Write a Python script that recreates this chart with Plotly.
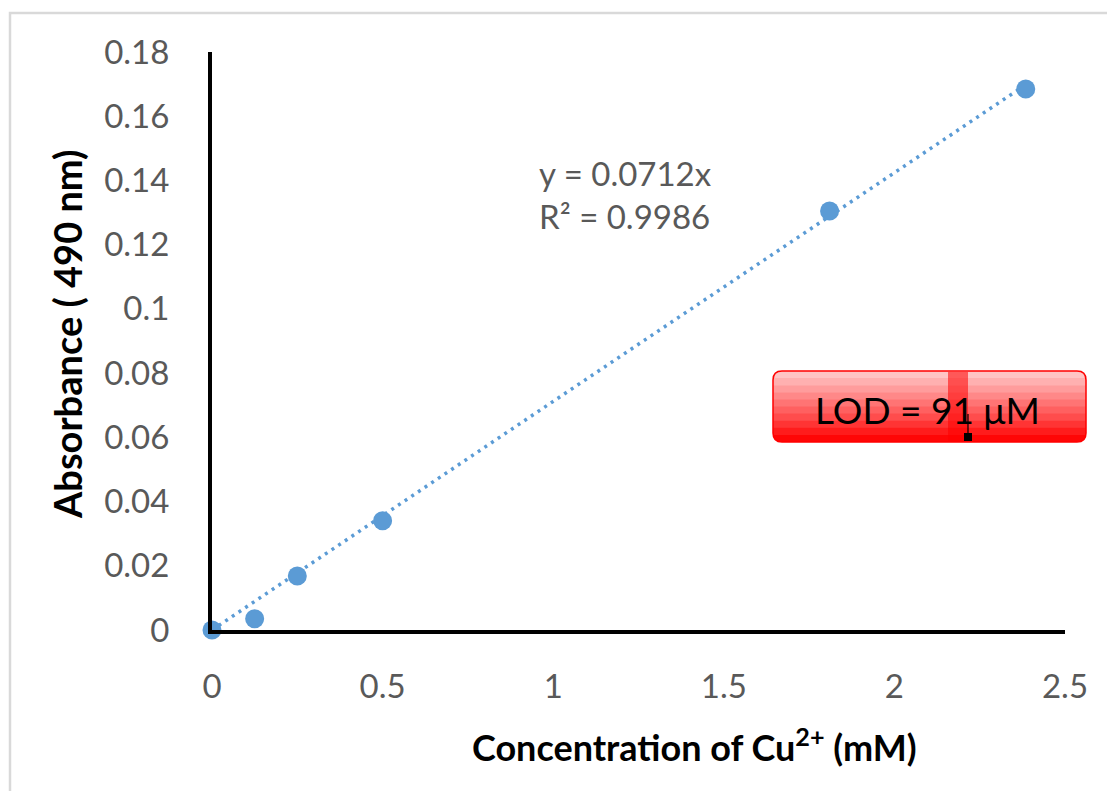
import plotly.graph_objects as go

conc = [0, 0.125, 0.25, 0.5, 1.81, 2.385]
absorb = [0.0, 0.0035, 0.0168, 0.034, 0.1305, 0.1685]
slope = 0.0712
eq_text = "y = 0.0712x<br>R² = 0.9986"
lod_text = "LOD = 91 μM"
x_title = "<b>Concentration of Cu<sup>2+</sup> (mM)</b>"
y_title = "<b>Absorbance ( 490 nm)</b>"
x_ticks = [0, 0.5, 1, 1.5, 2, 2.5]
x_tick_text = ["0", "0.5", "1", "1.5", "2", "2.5"]
y_ticks = [0, 0.02, 0.04, 0.06, 0.08, 0.1, 0.12, 0.14, 0.16, 0.18]
y_tick_text = ["0", "0.02", "0.04", "0.06", "0.08", "0.1", "0.12", "0.14", "0.16", "0.18"]

FONT = "Lato"
BLUE = "#5b9bd5"
GRAY = "#595959"

fit_x = [0, max(conc)]
fit_y = [slope * v for v in fit_x]

fig = go.Figure()
fig.add_trace(go.Scatter(x=fit_x, y=fit_y, mode="lines",
                         line=dict(color=BLUE, width=3.5, dash="3px,5px"),
                         cliponaxis=False, hoverinfo="skip"))
fig.add_trace(go.Scatter(x=conc, y=absorb, mode="markers",
                         marker=dict(color=BLUE, size=19),
                         cliponaxis=False))

W, H = 1115, 791
OFF = 8  # page body margin
L, T = 212 - OFF, 52 - OFF
R = W - (1065 - OFF)
B = H - (630 - OFF)
pw, ph = W - L - R, H - T - B

def px(xs):
    return (xs - OFF - L) / pw

def py(ys):
    return (H - B - (ys - OFF)) / ph

def rpath(xa, xb, ya, yb, rt, rb):
    """Rounded rect path in screen px; rt/rb = radius of top/bottom corners."""
    pts = []
    pts.append(f"M {px(xa + rt)},{py(ya)}")
    pts.append(f"L {px(xb - rt)},{py(ya)}")
    if rt:
        pts.append(f"Q {px(xb)},{py(ya)} {px(xb)},{py(ya + rt)}")
    pts.append(f"L {px(xb)},{py(yb - rb)}")
    if rb:
        pts.append(f"Q {px(xb)},{py(yb)} {px(xb - rb)},{py(yb)}")
    pts.append(f"L {px(xa + rb)},{py(yb)}")
    if rb:
        pts.append(f"Q {px(xa)},{py(yb)} {px(xa)},{py(yb - rb)}")
    pts.append(f"L {px(xa)},{py(ya + rt)}")
    if rt:
        pts.append(f"Q {px(xa)},{py(ya)} {px(xa + rt)},{py(ya)}")
    pts.append("Z")
    return " ".join(pts)

shapes = []
# outer chart border (left & top visible)
shapes.append(dict(type="path", xref="paper", yref="paper",
                   path=f"M {px(10)},{py(820)} L {px(10)},{py(13)} L {px(1130)},{py(13)}",
                   line=dict(color="#d9d9d9", width=2.5), layer="below"))

# LOD box with gradient bands
xa, xb = 773, 1086
ytop, ybot = 371, 442
rad = 9
bands = ["#ffc4c4", "#ffb0b0", "#ff9c9c", "#ff8888", "#ff7474", "#ff6060",
         "#ff4c4c", "#ff3434", "#ff1c1c", "#ff0606"]
n = len(bands)
bh = (ybot - ytop) / n
for i, c in enumerate(bands):
    ya = ytop + i * bh
    yb = ytop + (i + 1) * bh + 0.5
    if i == 0:
        p = rpath(xa, xb, ya, yb + 0.5, rad, 0)
    elif i == n - 1:
        p = rpath(xa, xb, ya, ybot, 0, rad)
    else:
        p = rpath(xa, xb, ya, yb, 0, 0)
    shapes.append(dict(type="path", xref="paper", yref="paper", path=p,
                       fillcolor=c, line=dict(width=0)))
# darker vertical highlight
shapes.append(dict(type="rect", xref="paper", yref="paper",
                   x0=px(948), x1=px(968), y0=py(ybot - 1), y1=py(ytop + 1),
                   fillcolor="rgba(255,0,0,0.55)", line=dict(width=0)))
# border
shapes.append(dict(type="path", xref="paper", yref="paper",
                   path=rpath(xa, xb, ytop, ybot, rad, rad),
                   line=dict(color="#ff0000", width=1.5)))
# small marker
shapes.append(dict(type="rect", xref="paper", yref="paper",
                   x0=px(964), x1=px(972), y0=py(441), y1=py(433),
                   fillcolor="black", line=dict(width=0)))
shapes.append(dict(type="line", xref="paper", yref="paper",
                   x0=px(968), x1=px(968), y0=py(437), y1=py(414),
                   line=dict(color="black", width=1.2)))

annotations = [
    dict(text=eq_text, xref="paper", yref="paper", x=px(537), y=py(194),
         xanchor="left", yanchor="middle", showarrow=False, align="left",
         font=dict(family=FONT, size=33, color=GRAY)),
    dict(text=lod_text, xref="paper", yref="paper", x=px(927), y=py(410),
         xanchor="center", yanchor="middle", showarrow=False,
         font=dict(family=FONT, size=37, color="black")),
    dict(text=x_title, xref="paper", yref="paper", x=px(694), y=py(745),
         xanchor="center", yanchor="middle", showarrow=False,
         font=dict(family=FONT, size=36, color="black")),
    dict(text=y_title, xref="paper", yref="paper", x=px(67), y=py(335),
         xanchor="center", yanchor="middle", showarrow=False, textangle=-90,
         font=dict(family=FONT, size=38, color="black")),
]

fig.update_layout(
    width=W, height=H,
    margin=dict(l=L, r=R, t=T, b=B),
    paper_bgcolor="white", plot_bgcolor="white",
    showlegend=False,
    shapes=shapes, annotations=annotations,
    xaxis=dict(range=[0, 2.5], tickvals=x_ticks, ticktext=x_tick_text,
               showgrid=False, zeroline=False, showline=True,
               linecolor="black", linewidth=4, ticks="",
               ticklabelstandoff=24,
               tickfont=dict(family=FONT, size=33, color=GRAY)),
    yaxis=dict(range=[0, 0.18], tickvals=y_ticks, ticktext=y_tick_text,
               showgrid=False, zeroline=False, showline=True,
               linecolor="black", linewidth=4, ticks="",
               ticklabelstandoff=32,
               tickfont=dict(family=FONT, size=33, color=GRAY)),
)

fig.write_html("out.html")
